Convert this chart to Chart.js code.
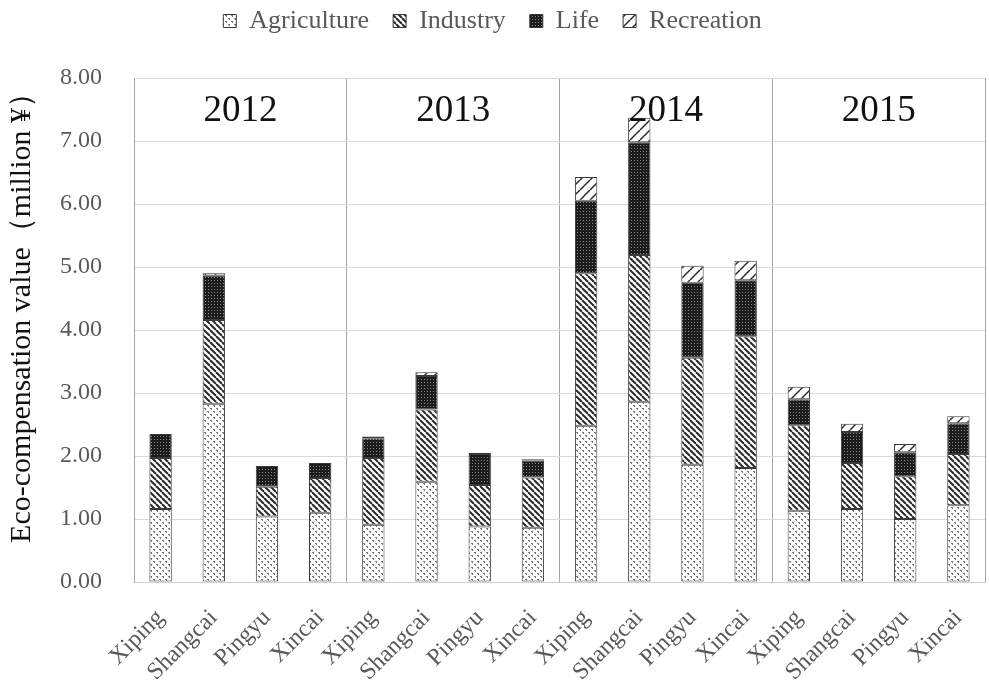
<!DOCTYPE html>
<html>
<head>
<meta charset="utf-8">
<script src="https://cdn.jsdelivr.net/npm/chart.js@4.4.0/dist/chart.umd.min.js"></script>
<style>
html, body { margin: 0; padding: 0; background: #fff; }
#contenedor { width: 989px; height: 690px; }
</style>
</head>
<body>
<div id="contenedor"><canvas id="grafico" width="989" height="690"></canvas></div>
<script>
// Datos (millones de yuanes)
const anios = ["2012", "2013", "2014", "2015"];
const condados = ["Xiping", "Shangcai", "Pingyu", "Xincai",
                  "Xiping", "Shangcai", "Pingyu", "Xincai",
                  "Xiping", "Shangcai", "Pingyu", "Xincai",
                  "Xiping", "Shangcai", "Pingyu", "Xincai"];
const agricultura = [1.16, 2.83, 1.04, 1.10, 0.91, 1.59, 0.88, 0.86, 2.48, 2.86, 1.86, 1.81, 1.13, 1.16, 1.00, 1.22];
const industria   = [0.81, 1.33, 0.47, 0.55, 1.06, 1.15, 0.66, 0.80, 2.42, 2.33, 1.70, 2.09, 1.36, 0.73, 0.68, 0.81];
const vida        = [0.38, 0.70, 0.33, 0.24, 0.31, 0.53, 0.49, 0.27, 1.15, 1.79, 1.19, 0.89, 0.41, 0.49, 0.38, 0.49];
const recreacion  = [0.00, 0.04, 0.00, 0.00, 0.03, 0.06, 0.02, 0.02, 0.38, 0.39, 0.27, 0.31, 0.20, 0.13, 0.13, 0.11];
const ejeY = { min: 0, max: 8, paso: 1 };

const fuente = '"Liberation Serif", "Times New Roman", serif';
const ctx = document.getElementById("grafico").getContext("2d");

// Tramas en blanco y negro para cada serie
function crearTrama(tam, dibujar) {
    const c = document.createElement("canvas");
    c.width = tam; c.height = tam;
    const g = c.getContext("2d");
    g.fillStyle = "#fff";
    g.fillRect(0, 0, tam, tam);
    dibujar(g, tam);
    return ctx.createPattern(c, "repeat");
}

const tramaAgricultura = crearTrama(6, (g) => {
    g.fillStyle = "#777";
    g.fillRect(0, 0, 2, 1);
    g.fillRect(1, 1, 1, 1);
    g.fillRect(3, 3, 2, 1);
    g.fillRect(4, 4, 1, 1);
});
const tramaIndustria = crearTrama(6, (g, t) => {
    g.strokeStyle = "#2a2a2a";
    g.lineWidth = 2;
    for (let k = -t; k <= t; k += t) {
        g.beginPath(); g.moveTo(k, 0); g.lineTo(k + t, t); g.stroke();
    }
});
const tramaVida = crearTrama(3, (g) => {
    g.fillStyle = "#1c1c1c";
    g.fillRect(0, 0, 3, 3);
    g.fillStyle = "#8a8a8a";
    g.fillRect(1, 1, 1, 1);
});
const tramaRecreacion = crearTrama(10, (g, t) => {
    g.strokeStyle = "#2a2a2a";
    g.lineWidth = 1.5;
    for (let k = -t; k <= t; k += t) {
        g.beginPath(); g.moveTo(k, t); g.lineTo(k + t, 0); g.stroke();
    }
});

// Leyenda: más espacio debajo y subirla un poco
const ajusteLeyenda = {
    id: "ajusteLeyenda",
    beforeInit(chart) {
        const fitOriginal = chart.legend.fit;
        chart.legend.fit = function () {
            fitOriginal.call(this);
            this.height = 78;
        };
    },
    afterLayout(chart) {
        chart.legend.top -= 16;
        chart.legend.bottom -= 16;
    }
};

// Etiquetas de año sobre cada grupo
const etiquetasAnio = {
    id: "etiquetasAnio",
    afterDatasetsDraw(chart) {
        const { ctx, chartArea, scales: { x } } = chart;
        ctx.save();
        ctx.font = "37px " + fuente;
        ctx.fillStyle = "#111";
        ctx.textAlign = "center";
        ctx.textBaseline = "middle";
        anios.forEach((a, i) => {
            const cx = (x.getPixelForValue(i * 4) + x.getPixelForValue(i * 4 + 3)) / 2;
            ctx.fillText(a, cx, chartArea.top + 33);
        });
        ctx.restore();
    }
};

const serie = (label, data, trama) => ({
    label, data,
    backgroundColor: trama,
    borderColor: "#3a3a3a",
    borderWidth: 1,
    borderSkipped: false,
    barPercentage: 0.42,
    categoryPercentage: 1
});

new Chart(ctx, {
    type: "bar",
    data: {
        labels: condados,
        datasets: [
            serie("Agriculture", agricultura, tramaAgricultura),
            serie("Industry", industria, tramaIndustria),
            serie("Life", vida, tramaVida),
            serie("Recreation", recreacion, tramaRecreacion)
        ]
    },
    options: {
        responsive: false,
        animation: false,
        layout: { padding: { top: 0, right: 4, left: 0, bottom: 0 } },
        plugins: {
            legend: {
                position: "top",
                labels: {
                    font: { family: fuente, size: 26 },
                    color: "#595959",
                    boxWidth: 13,
                    boxHeight: 13,
                    padding: 24
                }
            },
            tooltip: { enabled: false }
        },
        scales: {
            x: {
                stacked: true,
                grid: {
                    offset: true,
                    drawTicks: false,
                    color: (c) => (c.index === undefined || c.index % 4 === 0) ? "#a6a6a6" : "rgba(0,0,0,0)"
                },
                border: { color: "#d0d0d0" },
                ticks: {
                    font: { family: fuente, size: 24 },
                    color: "#595959",
                    minRotation: 45,
                    maxRotation: 45,
                    autoSkip: false,
                    padding: 22
                },
                afterFit: (s) => { s.height = 108; s.paddingRight = 0; s.paddingLeft = 0; }
            },
            y: {
                stacked: true,
                min: ejeY.min,
                max: ejeY.max,
                grid: { color: "#d9d9d9", drawTicks: false },
                border: { color: "#a6a6a6" },
                ticks: {
                    stepSize: ejeY.paso,
                    font: { family: fuente, size: 24 },
                    color: "#595959",
                    padding: 32,
                    callback: (v) => Number(v).toFixed(2)
                },
                title: {
                    display: true,
                    text: "Eco-compensation value（million ¥）",
                    font: { family: fuente, size: 30 },
                    color: "#111",
                    align: "end",
                    padding: { top: 4, bottom: 0 }
                },
                afterFit: (s) => { s.width = 134; }
            }
        }
    },
    plugins: [ajusteLeyenda, etiquetasAnio]
});
</script>
</body>
</html>
